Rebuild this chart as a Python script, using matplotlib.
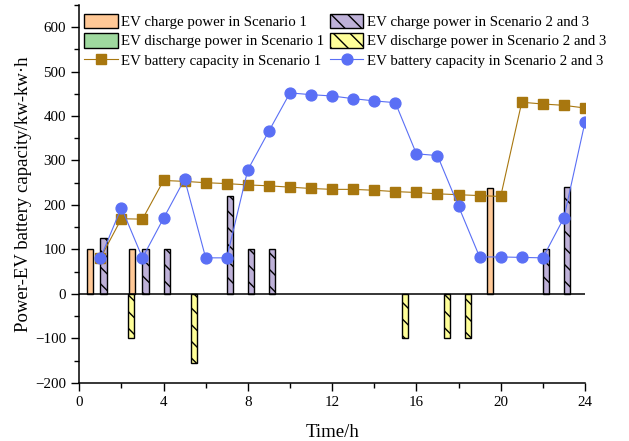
import matplotlib
matplotlib.use("Agg")
import matplotlib.pyplot as plt
from matplotlib.patches import Patch
from matplotlib.lines import Line2D
from matplotlib.ticker import MultipleLocator

plt.rcParams['font.family'] = ['Liberation Serif', 'DejaVu Serif']
plt.rcParams['hatch.linewidth'] = 1.0

# data
hours = list(range(1, 25))
cap_s1 = [80, 169, 168, 255, 253, 250, 248, 245, 243, 240, 237, 235,
          235, 233, 230, 228, 225, 223, 221, 219, 431, 427, 424, 418]
cap_s23 = [80, 194, 81, 170, 258, 81, 81, 279, 366, 452, 448, 445,
           439, 434, 430, 315, 311, 197, 83, 83, 82, 81, 171, 386]

charge_s1_t = [0.5, 2.5, 19.5]
charge_s1_p = [100, 100, 237]
discharge_s1_t = []
discharge_s1_p = []
charge_s23_t = [1.15, 3.15, 4.15, 7.15, 8.15, 9.15, 22.15, 23.15]
charge_s23_p = [126, 100, 100, 219, 100, 100, 100, 240]
discharge_s23_t = [2.45, 5.45, 15.45, 17.45, 18.45]
discharge_s23_p = [-100, -155, -100, -100, -100]

labels = ['EV charge power in Scenario 1', 'EV discharge power in Scenario 1',
          'EV battery capacity in Scenario 1', 'EV charge power in Scenario 2 and 3',
          'EV discharge power in Scenario 2 and 3', 'EV battery capacity in Scenario 2 and 3']

c_orange = '#FFC896'
c_green = '#9FD99F'
c_purple = '#BEB1D8'
c_yellow = '#FFFF99'
c_brown = '#A8770F'
c_blue = '#5A6FF5'

fig = plt.figure(figsize=(6.29, 4.41), dpi=100)
ax = fig.add_axes([0.126, 0.132, 0.804, 0.857])

w = 0.3
ax.bar(charge_s1_t, charge_s1_p, width=w, color=c_orange, edgecolor='black', linewidth=1.0, zorder=2)
ax.bar(discharge_s1_t, discharge_s1_p, width=w, color=c_green, edgecolor='black', linewidth=1.0, zorder=2)
ax.bar(charge_s23_t, charge_s23_p, width=w, color=c_purple, edgecolor='black', linewidth=1.0,
       hatch='\\\\', zorder=2)
ax.bar(discharge_s23_t, discharge_s23_p, width=w, color=c_yellow, edgecolor='black', linewidth=1.0,
       hatch='\\\\', zorder=2)

ax.axhline(0, color='black', linewidth=1.1, zorder=3)

ax.plot(hours, cap_s1, color=c_brown, linewidth=0.8, marker='s', markersize=6.5, zorder=4)
ax.plot(hours, cap_s23, color=c_blue, linewidth=0.8, marker='o', markersize=7.8, zorder=5)

ax.set_xlim(0, 24)
ax.set_ylim(-200, 650)
ax.xaxis.set_major_locator(MultipleLocator(4))
ax.xaxis.set_minor_locator(MultipleLocator(2))
ax.yaxis.set_minor_locator(MultipleLocator(50))
ax.set_yticks(range(-200, 601, 100))

for s in ['top', 'right']:
    ax.spines[s].set_visible(False)
for s in ['left', 'bottom']:
    ax.spines[s].set_linewidth(1.1)
ax.tick_params(which='major', direction='out', length=6, width=1.0, labelsize=10.8)
ax.tick_params(which='minor', direction='out', length=3.5, width=1.0)

ax.set_xlabel('Time/h', fontsize=13.5, labelpad=11)
ax.set_ylabel('Power-EV battery capacity/kw-kw·h', fontsize=13.5, labelpad=2)

handles = [
    Patch(facecolor=c_orange, edgecolor='black', linewidth=1.0),
    Patch(facecolor=c_green, edgecolor='black', linewidth=1.0),
    Line2D([], [], color=c_brown, linewidth=0.8, marker='s', markersize=6.5),
    Patch(facecolor=c_purple, edgecolor='black', linewidth=1.0, hatch='\\\\'),
    Patch(facecolor=c_yellow, edgecolor='black', linewidth=1.0, hatch='\\\\'),
    Line2D([], [], color=c_blue, linewidth=0.8, marker='o', markersize=7.8),
]
ax.legend(handles, labels, ncol=2, loc='upper left', bbox_to_anchor=(0.01, 0.976),
          frameon=False, fontsize=10.7, borderaxespad=0, borderpad=0,
          handlelength=2.25, handleheight=1.1, handletextpad=0.25,
          labelspacing=0.28, columnspacing=0.35)

fig.savefig('out.png', dpi=100)
